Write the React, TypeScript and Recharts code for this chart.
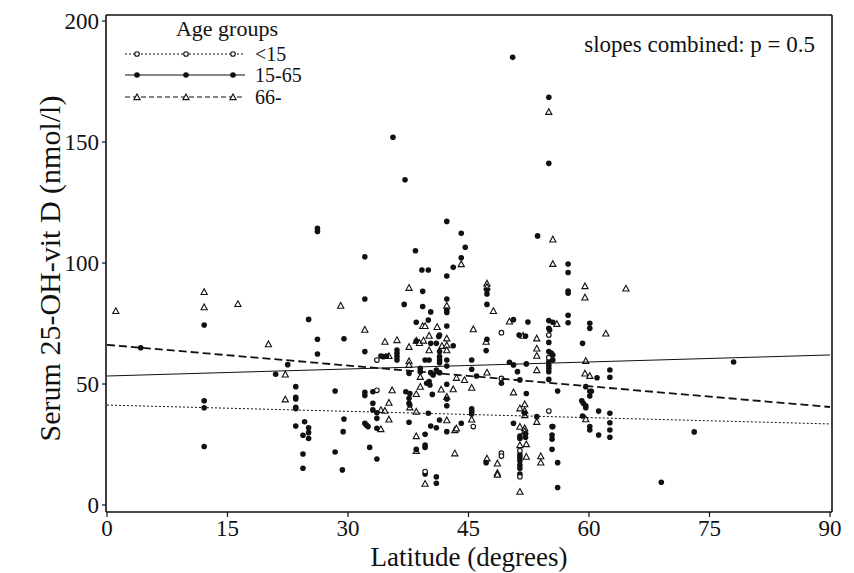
import React from 'react';
import { ScatterChart, Scatter, XAxis, YAxis, Legend } from 'recharts';

const FONT = '"Liberation Serif", "Times New Roman", Times, serif';

const xTicks = [0, 15, 30, 45, 60, 75, 90];
const yTicks = [0, 50, 100, 150, 200];
const groupLabels = ['<15', '15-65', '66-'];
const legendTitle = 'Age groups';
const annotation = 'slopes combined: p = 0.5';
const xTitle = 'Latitude (degrees)';
const yTitle = 'Serum 25-OH-vit D (nmol/l)';

// [latitude, serum 25-OH-vit D]
const under15Raw = [
  [33.6, 59.9], [33.6, 47.4], [45.6, 32.4], [39.6, 13.8], [49.1, 71.2], [55.0, 70.2],
  [55.0, 60.9], [49.1, 52.3], [55.0, 38.8], [51.4, 22.4], [51.4, 11.7], [49.1, 21.4], [49.1, 20.2],
];

const age15to65Raw = [
  [4.2, 65.0],
  [12.1, 74.4], [12.1, 43.1], [12.1, 40.2], [12.1, 24.2],
  [22.5, 58.0], [21.0, 54.0],
  [23.5, 48.9], [23.5, 44.5], [23.5, 43.8], [23.5, 40.4], [23.5, 39.8], [23.5, 32.6],
  [24.6, 34.4], [25.1, 31.9], [25.1, 29.9], [25.1, 27.5], [24.4, 28.8], [24.4, 21.1], [24.4, 15.2],
  [25.1, 76.7], [26.2, 114.3], [26.2, 113.0], [26.2, 68.5], [26.2, 62.4],
  [28.4, 47.1], [28.4, 21.9],
  [29.5, 68.7], [29.5, 35.5], [29.4, 30.3], [29.3, 14.5],
  [32.1, 102.6], [32.1, 85.1], [32.1, 63.4], [32.1, 46.6], [32.1, 45.2], [32.1, 33.8], [32.3, 33.0], [32.5, 32.4], [32.7, 23.8],
  [33.1, 46.8], [33.1, 42.0], [33.1, 39.3], [33.6, 38.1], [33.6, 35.8], [33.6, 31.7], [33.6, 19.0],
  [34.1, 61.6], [34.4, 61.3], [34.8, 61.6],
  [35.6, 152.0],
  [36.1, 64.0], [36.1, 62.7], [36.1, 61.3], [36.1, 59.9],
  [37.0, 82.9], [37.1, 134.4], [37.2, 46.8], [37.6, 54.4], [37.6, 44.1], [37.6, 42.0], [37.7, 41.3], [37.7, 46.1], [37.6, 34.2],
  [38.4, 105.1], [38.5, 75.5], [38.5, 67.8], [38.5, 23.0],
  [39.0, 56.5], [39.0, 55.1], [39.2, 97.1], [39.3, 88.3], [39.3, 82.0], [39.6, 59.9], [39.8, 50.3], [39.6, 29.2], [39.6, 24.8], [39.6, 23.8], [39.6, 12.8],
  [40.0, 97.1], [40.0, 76.4], [40.1, 59.9], [40.1, 51.0], [40.0, 37.9], [40.2, 49.6], [40.3, 79.8], [40.3, 66.8], [40.3, 54.7], [40.6, 53.7], [40.5, 45.7], [40.3, 32.6],
  [41.0, 66.8], [41.0, 55.8], [41.0, 31.9], [41.0, 11.6], [41.0, 9.0], [41.3, 69.6], [41.4, 70.2], [41.4, 63.4], [41.4, 61.3], [41.4, 59.9], [41.4, 58.8], [41.4, 54.7], [41.4, 35.1],
  [42.3, 117.2], [42.3, 94.6], [42.3, 85.1], [42.3, 80.6], [42.3, 79.6], [42.3, 74.0], [42.3, 59.9], [42.3, 57.4], [42.3, 49.9], [42.3, 43.8], [42.3, 41.0], [42.3, 30.3],
  [43.1, 98.2], [43.1, 65.8],
  [44.1, 112.3], [44.1, 102.2], [44.1, 33.8], [44.6, 106.5],
  [45.4, 59.9], [45.4, 56.1], [45.4, 39.7], [45.4, 38.6], [45.4, 37.6],
  [46.0, 53.3],
  [47.3, 88.8], [47.3, 87.2], [47.3, 82.9], [47.2, 63.8], [47.3, 68.5], [47.2, 17.5],
  [50.6, 76.6], [50.1, 59.0], [50.6, 57.9], [50.5, 185.0], [51.1, 55.1], [51.4, 51.7], [50.6, 33.8], [49.1, 50.3],
  [51.3, 70.2], [52.1, 69.8],
  [52.4, 75.6], [52.2, 58.3], [52.2, 46.1],
  [52.1, 29.5], [52.1, 28.0],
  [51.4, 27.5], [51.4, 28.5], [51.4, 20.7], [51.4, 19.5], [51.4, 18.3], [51.4, 16.5], [51.4, 15.2], [51.4, 12.8],
  [52.0, 38.0],
  [53.5, 36.5], [53.6, 111.2],
  [55.0, 141.2], [55.0, 168.5], [55.0, 76.2], [55.5, 75.5], [55.0, 73.0], [55.1, 72.3], [55.0, 67.2], [55.0, 63.4], [55.3, 62.8], [55.5, 62.0],
  [55.0, 59.2], [55.0, 57.8], [55.0, 56.5], [55.0, 55.1], [55.5, 59.9], [55.0, 51.9],
  [55.4, 32.4], [55.5, 32.4], [55.4, 28.9], [55.4, 27.2], [55.4, 23.0],
  [56.1, 47.1], [56.1, 17.5], [56.1, 7.2],
  [57.4, 99.6], [57.4, 96.1], [57.4, 88.4], [57.4, 87.5], [57.4, 78.4], [57.4, 75.3],
  [59.2, 66.8], [59.6, 48.9], [60.1, 47.0], [60.3, 47.0], [60.1, 45.0], [59.1, 43.1], [59.3, 42.0], [59.6, 41.0], [59.6, 40.2], [59.2, 36.8], [60.1, 32.4], [60.1, 31.0],
  [60.1, 75.1], [60.1, 73.0],
  [61.0, 52.6], [61.2, 38.8], [61.2, 28.9],
  [62.6, 55.8], [62.6, 52.8], [62.6, 37.9], [62.6, 34.0], [62.6, 31.0], [62.6, 28.0],
  [69.0, 9.4], [73.1, 30.2], [78.0, 59.1],
];

const over65Raw = [
  [1.1, 80.2], [12.1, 88.1], [12.1, 81.8], [16.3, 83.1], [20.1, 66.5], [22.2, 54.0], [22.2, 43.7],
  [29.1, 82.4],
  [32.1, 72.5],
  [34.6, 67.5], [35.1, 61.6], [35.5, 47.5], [35.1, 42.3], [34.1, 39.3], [34.6, 39.0], [35.1, 35.4], [34.1, 31.4],
  [36.1, 68.2],
  [37.6, 89.8], [37.6, 65.4], [37.6, 59.5], [37.6, 57.9],
  [38.5, 68.0], [38.9, 67.0], [39.4, 68.0], [39.3, 74.0], [39.6, 74.0], [39.0, 53.0], [39.0, 48.9], [38.5, 45.9], [38.5, 38.6], [37.7, 40.4], [38.5, 28.5], [38.5, 22.4],
  [39.6, 8.8],
  [40.1, 70.0], [40.1, 64.0],
  [41.1, 73.6], [41.7, 65.8], [42.3, 66.1], [42.3, 64.0], [42.3, 68.9], [42.3, 82.4], [41.6, 47.8], [42.3, 44.8], [42.3, 35.1],
  [43.1, 47.9], [43.5, 52.6], [44.5, 51.7], [43.3, 31.0], [43.5, 31.7], [43.3, 21.4],
  [44.1, 99.6],
  [45.6, 72.7], [45.4, 48.5], [45.4, 35.4],
  [47.3, 91.6], [47.3, 90.2], [47.2, 67.5], [47.3, 54.8], [47.3, 19.3], [48.6, 17.2], [48.6, 13.3], [48.6, 12.6],
  [48.1, 80.2], [50.1, 75.9],
  [51.8, 70.0], [53.5, 68.9], [53.5, 64.7], [53.5, 61.7], [53.5, 55.8],
  [50.6, 46.6],
  [52.0, 41.7], [51.4, 40.0], [52.0, 39.0], [52.0, 37.2],
  [53.5, 34.4], [51.4, 32.4], [52.0, 31.8], [52.0, 30.5], [52.2, 25.2], [51.4, 24.8], [52.2, 20.0], [51.4, 5.5],
  [54.0, 20.2], [54.0, 17.6],
  [55.0, 162.5], [56.0, 74.9], [55.5, 109.8], [55.5, 99.7],
  [59.5, 90.5], [59.5, 85.8], [59.6, 59.6], [59.5, 54.4], [60.1, 53.4], [59.6, 35.5],
  [62.1, 70.9], [64.6, 89.5],
];

// fitted regression lines (value at latitude 0 and 90)
const fitUnder15Raw = [[0, 41.3], [90, 33.5]];
const fit15to65Raw = [[0, 53.3], [90, 62.0]];
const fitOver65Raw = [[0, 66.2], [90, 40.5]];

const toPts = (a: number[][]) => a.map(([x, y]) => ({ x, y }));

const under15 = toPts(under15Raw);
const age15to65 = toPts(age15to65Raw);
const over65 = toPts(over65Raw);
const fitUnder15 = toPts(fitUnder15Raw);
const fit15to65 = toPts(fit15to65Raw);
const fitOver65 = toPts(fitOver65Raw);

const X_DOMAIN: [number, number] = [-0.12, 90.25];
const Y_DOMAIN: [number, number] = [-2.9, 202.5];

const OpenCircle = (p: any) => (
  <circle cx={p.cx} cy={p.cy} r={2.3} fill="#fff" stroke="#111" strokeWidth={1.1} />
);
const Dot = (p: any) => <circle cx={p.cx} cy={p.cy} r={2.8} fill="#111" />;
const Tri = (p: any) => {
  const { cx, cy } = p;
  const s = 3.1;
  return (
    <path
      d={`M${cx},${cy - s} L${cx + s},${cy + s * 0.85} L${cx - s},${cy + s * 0.85} Z`}
      fill="#fff"
      stroke="#111"
      strokeWidth={1.1}
    />
  );
};
const NoShape = () => <g />;

const lineStyles = [
  { dash: '2 2', width: 1 },
  { dash: undefined as string | undefined, width: 1 },
  { dash: '8 4', width: 1.8 },
];

const renderLegend = () => {
  const rows = [54, 75, 97];
  const markerX = [137, 186, 233];
  return (
    <svg width={854} height={110} style={{ overflow: 'visible', display: 'block' }}>
      <text x={227} y={36} textAnchor="middle" fontFamily={FONT} fontSize={22} fill="#111">
        {legendTitle}
      </text>
      {groupLabels.map((lab, i) => (
        <g key={lab}>
          <line
            x1={125}
            x2={245}
            y1={rows[i]}
            y2={rows[i]}
            stroke="#111"
            strokeWidth={i === 2 ? 1.2 : 1}
            strokeDasharray={i === 0 ? '2 2' : i === 2 ? '5 3' : undefined}
          />
          {markerX.map((mx) =>
            i === 0 ? (
              <OpenCircle key={mx} cx={mx} cy={rows[i]} />
            ) : i === 1 ? (
              <Dot key={mx} cx={mx} cy={rows[i]} />
            ) : (
              <Tri key={mx} cx={mx} cy={rows[i]} />
            )
          )}
          <text x={255} y={rows[i] + 7} fontFamily={FONT} fontSize={20} fill="#111">
            {lab}
          </text>
        </g>
      ))}
      <text x={815} y={52} textAnchor="end" fontFamily={FONT} fontSize={23} fill="#111">
        {annotation}
      </text>
    </svg>
  );
};

const XTitle = (props: any) => {
  const vb = props.viewBox || { x: 106, y: 512, width: 726, height: 30 };
  return (
    <text x={vb.x + vb.width / 2} y={566} textAnchor="middle" fontFamily={FONT} fontSize={27} fill="#111" style={{ fontFamily: FONT }}>
      {xTitle}
    </text>
  );
};

const YTitle = (props: any) => {
  const vb = props.viewBox || { x: 46, y: 15, width: 60, height: 497 };
  const cx = 60;
  const cy = vb.y + vb.height / 2 + 5;
  return (
    <text
      x={cx}
      y={cy}
      transform={`rotate(-90, ${cx}, ${cy})`}
      textAnchor="middle"
      fontFamily={FONT}
      fontSize={30}
      fill="#111"
      style={{ fontFamily: FONT }}
    >
      {yTitle}
    </text>
  );
};

const XTick = (p: any) => (
  <text x={p.x} y={p.y + 17} textAnchor="middle" fontSize={23} fill="#111" style={{ fontFamily: FONT }}>
    {p.payload.value}
  </text>
);

const YTick = (p: any) => (
  <text x={p.x} y={p.y + 8} textAnchor="end" fontSize={23} fill="#111" style={{ fontFamily: FONT }}>
    {p.payload.value}
  </text>
);

export default function App() {
  return (
    <div style={{ position: 'absolute', left: 0, top: 0, background: '#fff' }}>
      <ScatterChart width={854} height={573} margin={{ top: 14, right: 21, bottom: 31, left: 46 }}>
        <XAxis
          type="number"
          dataKey="x"
          domain={X_DOMAIN}
          ticks={xTicks}
          allowDataOverflow
          height={30}
          tick={<XTick />}
          tickSize={5}
          tickMargin={2}
          tickLine={{ stroke: '#111', strokeWidth: 1.2 }}
          axisLine={{ stroke: '#111', strokeWidth: 1.6 }}
          label={{ content: (p: any) => <XTitle {...p} /> }}
        />
        <YAxis
          type="number"
          dataKey="y"
          domain={Y_DOMAIN}
          ticks={yTicks}
          allowDataOverflow
          width={60}
          tick={<YTick />}
          tickSize={4}
          tickMargin={3}
          tickLine={{ stroke: '#111', strokeWidth: 1.2 }}
          axisLine={{ stroke: '#111', strokeWidth: 1.6 }}
          label={{ content: (p: any) => <YTitle {...p} /> }}
        />
        <XAxis
          xAxisId="top"
          orientation="top"
          type="number"
          domain={X_DOMAIN}
          allowDataOverflow
          height={1}
          tick={false}
          tickLine={false}
          axisLine={{ stroke: '#111', strokeWidth: 1.6 }}
        />
        <YAxis
          yAxisId="right"
          orientation="right"
          type="number"
          domain={Y_DOMAIN}
          allowDataOverflow
          width={1}
          tick={false}
          tickLine={false}
          axisLine={{ stroke: '#111', strokeWidth: 1.6 }}
        />
        <Legend
          layout="vertical"
          align="center"
          verticalAlign="middle"
          content={renderLegend}
          wrapperStyle={{ position: 'absolute', left: 0, top: 0, width: 854, height: 110, margin: 0, padding: 0 }}
        />
        <Scatter name="66-" data={over65} shape={Tri} isAnimationActive={false} />
        <Scatter name="15-65" data={age15to65} shape={Dot} isAnimationActive={false} />
        <Scatter name="<15" data={under15} shape={OpenCircle} isAnimationActive={false} />
        <Scatter
          data={fitUnder15}
          shape={NoShape}
          line={{ stroke: '#111', strokeWidth: lineStyles[0].width, strokeDasharray: lineStyles[0].dash }}
          isAnimationActive={false}
          legendType="none"
        />
        <Scatter
          data={fit15to65}
          shape={NoShape}
          line={{ stroke: '#111', strokeWidth: lineStyles[1].width }}
          isAnimationActive={false}
          legendType="none"
        />
        <Scatter
          data={fitOver65}
          shape={NoShape}
          line={{ stroke: '#111', strokeWidth: lineStyles[2].width, strokeDasharray: lineStyles[2].dash }}
          isAnimationActive={false}
          legendType="none"
        />
      </ScatterChart>
    </div>
  );
}
